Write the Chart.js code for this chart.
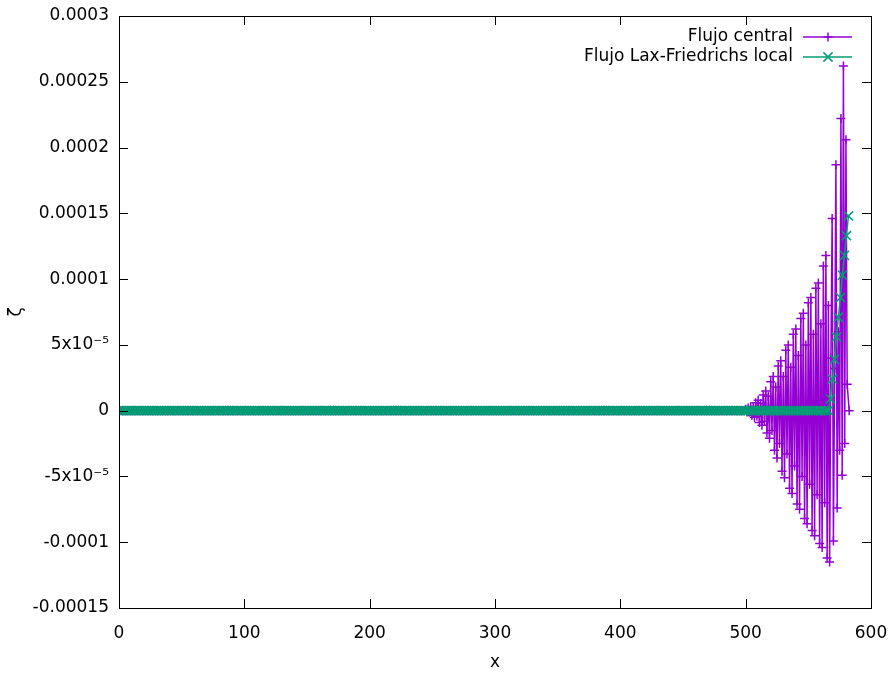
<!DOCTYPE html>
<html>
<head>
<meta charset="utf-8">
<script src="https://cdn.jsdelivr.net/npm/chart.js@4/dist/chart.umd.min.js"></script>
<style>
  html, body { margin: 0; padding: 0; background: #fff; }
  #wrap { width: 894px; height: 673px; }
</style>
</head>
<body>
<div id="wrap"><canvas id="grafico"></canvas></div>
<script>
// Malla común de la zona plana (ambos flujos valen 0 ahí)
const xFlat = [
  0,2,4,6,8,10,12,14,16,18,
  20,22,24,26,28,30,32,34,36,38,
  40,42,44,46,48,50,52,54,56,58,
  60,62,64,66,68,70,72,74,76,78,
  80,82,84,86,88,90,92,94,96,98,
  100,102,104,106,108,110,112,114,116,118,
  120,122,124,126,128,130,132,134,136,138,
  140,142,144,146,148,150,152,154,156,158,
  160,162,164,166,168,170,172,174,176,178,
  180,182,184,186,188,190,192,194,196,198,
  200,202,204,206,208,210,212,214,216,218,
  220,222,224,226,228,230,232,234,236,238,
  240,242,244,246,248,250,252,254,256,258,
  260,262,264,266,268,270,272,274,276,278,
  280,282,284,286,288,290,292,294,296,298,
  300,302,304,306,308,310,312,314,316,318,
  320,322,324,326,328,330,332,334,336,338,
  340,342,344,346,348,350,352,354,356,358,
  360,362,364,366,368,370,372,374,376,378,
  380,382,384,386,388,390,392,394,396,398,
  400,402,404,406,408,410,412,414,416,418,
  420,422,424,426,428,430,432,434,436,438,
  440,442,444,446,448,450,452,454,456,458,
  460,462,464,466,468,470,472,474,476,478,
  480,482,484,486,488,490,492,494,496,498
];
const zetaFlat = [
  0,0,0,0,0,0,0,0,0,0, 0,0,0,0,0,0,0,0,0,0,
  0,0,0,0,0,0,0,0,0,0, 0,0,0,0,0,0,0,0,0,0,
  0,0,0,0,0,0,0,0,0,0, 0,0,0,0,0,0,0,0,0,0,
  0,0,0,0,0,0,0,0,0,0, 0,0,0,0,0,0,0,0,0,0,
  0,0,0,0,0,0,0,0,0,0, 0,0,0,0,0,0,0,0,0,0,
  0,0,0,0,0,0,0,0,0,0, 0,0,0,0,0,0,0,0,0,0,
  0,0,0,0,0,0,0,0,0,0, 0,0,0,0,0,0,0,0,0,0,
  0,0,0,0,0,0,0,0,0,0, 0,0,0,0,0,0,0,0,0,0,
  0,0,0,0,0,0,0,0,0,0, 0,0,0,0,0,0,0,0,0,0,
  0,0,0,0,0,0,0,0,0,0, 0,0,0,0,0,0,0,0,0,0,
  0,0,0,0,0,0,0,0,0,0, 0,0,0,0,0,0,0,0,0,0,
  0,0,0,0,0,0,0,0,0,0, 0,0,0,0,0,0,0,0,0,0,
  0,0,0,0,0,0,0,0,0,0
];

// Flujo central: cola oscilante (paso 1)
const xCentralTail = [
  500,501,502,503,504,505,506,507,508,509,
  510,511,512,513,514,515,516,517,518,519,
  520,521,522,523,524,525,526,527,528,529,
  530,531,532,533,534,535,536,537,538,539,
  540,541,542,543,544,545,546,547,548,549,
  550,551,552,553,554,555,556,557,558,559,
  560,561,562,563,564,565,566,567,568,569,
  570,571,572,573,574,575,576,577,578,579,
  580,581,582.6
];
const zetaCentralTail = [
  1e-6,-1e-6,2e-6,-1.2e-6,3e-6,-3.5e-6,2.4e-6,-5e-6,6e-6,-4.2e-6,
  8e-6,-9e-6,5.4e-6,-11e-6,12e-6,-8e-6,15e-6,-17e-6,11e-6,-21e-6,
  22e-6,-15e-6,26e-6,-30e-6,18e-6,-36e-6,34e-6,-25e-6,38e-6,-46e-6,
  26e-6,-51e-6,46e-6,-33e-6,50e-6,-59e-6,33e-6,-63e-6,58e-6,-42e-6,
  62e-6,-71e-6,42e-6,-75e-6,70e-6,-50e-6,74e-6,-82e-6,50e-6,-86e-6,
  82e-6,-56e-6,86e-6,-91e-6,58e-6,-95e-6,93e-6,-64e-6,97e-6,-101e-6,
  66e-6,-104e-6,110e-6,-70e-6,118e-6,-112e-6,80e-6,-115e-6,40e-6,146e-6,
  -99e-6,32e-6,187e-6,-74e-6,60e-6,-30e-6,222e-6,-49e-6,262e-6,-25e-6,
  206e-6,20e-6,0
];

// Flujo Lax-Friedrichs local: cola
const xLFTail = [
  500,502,504,506,508,510,512,514,516,518,
  520,522,524,526,528,530,532,534,536,538,
  540,542,544,546,548,550,552,554,556,558,
  560,562,564,566,567.6,569.2,570.8,572.4,574,575.6,
  577.2,578.8,580.4,582
];
const zetaLFTail = [
  0,0,0,0,0,0,0,0,0,0,
  0,0,0,0,0,0,0,0,0,0,
  0,0,0,0,0,0,0,0,0,0,
  0,0,0,0,9e-6,24e-6,39e-6,56e-6,71e-6,86e-6,
  103e-6,118e-6,133e-6,148e-6
];

const xTicks = [0, 100, 200, 300, 400, 500, 600];
const yTicks = [-0.00015, -0.0001, -0.00005, 0, 0.00005, 0.0001, 0.00015, 0.0002, 0.00025, 0.0003];
const yTickLabels = ['-0.00015', '-0.0001', '-5x10\u207B\u2075', '0', '5x10\u207B\u2075', '0.0001', '0.00015', '0.0002', '0.00025', '0.0003'];

const seriesNames = ['Flujo central', 'Flujo Lax-Friedrichs local'];
const colCentral = '#9400d3';
const colLF = '#009e73';
const FONT = '"DejaVu Sans", sans-serif';
const FSIZE = 17;

function puntos(xs, ys) {
  return xs.map((x, i) => ({ x: x, y: ys[i] }));
}

// marco y marcas hacia dentro estilo gnuplot, y leyenda
const marco = {
  id: 'marco',
  afterDatasetsDraw(chart) {
    const { ctx, chartArea: a, scales } = chart;
    ctx.save();
    ctx.strokeStyle = '#000';
    ctx.lineWidth = 1;
    ctx.beginPath();
    yTicks.forEach(v => {
      const y = Math.round(scales.y.getPixelForValue(v)) + 0.5;
      ctx.moveTo(a.left, y); ctx.lineTo(a.left + 9, y);
      ctx.moveTo(a.right, y); ctx.lineTo(a.right - 9, y);
    });
    xTicks.forEach(v => {
      const x = Math.round(scales.x.getPixelForValue(v)) + 0.5;
      ctx.moveTo(x, a.bottom); ctx.lineTo(x, a.bottom - 9);
      ctx.moveTo(x, a.top); ctx.lineTo(x, a.top + 9);
    });
    ctx.stroke();
    ctx.strokeRect(Math.round(a.left) + 0.5, Math.round(a.top) + 0.5,
                   Math.round(a.right - a.left), Math.round(a.bottom - a.top));

    // leyenda
    const filas = [
      { t: seriesNames[0], c: colCentral, m: 'cross', r: 4.5 },
      { t: seriesNames[1], c: colLF, m: 'crossRot', r: 6.5 }
    ];
    ctx.font = FSIZE + 'px ' + FONT;
    ctx.textAlign = 'right';
    ctx.textBaseline = 'middle';
    filas.forEach((f, i) => {
      const y = 37 + i * 20;
      ctx.fillStyle = '#000';
      ctx.fillText(f.t, 793, y);
      ctx.strokeStyle = f.c;
      ctx.lineWidth = 1.5;
      ctx.beginPath();
      ctx.moveTo(803, y); ctx.lineTo(852, y);
      ctx.stroke();
      Chart.helpers.drawPoint(ctx, { pointStyle: f.m, radius: f.r, borderWidth: 1.5 }, 828, y);
    });
    ctx.restore();
  }
};

new Chart(document.getElementById('grafico'), {
  type: 'line',
  data: {
    datasets: [
      {
        label: seriesNames[0],
        data: puntos(xFlat, zetaFlat).concat(puntos(xCentralTail, zetaCentralTail)),
        borderColor: colCentral,
        backgroundColor: colCentral,
        borderWidth: 1.5,
        pointStyle: 'cross',
        pointRadius: 4.5,
        pointBorderWidth: 1.5,
        tension: 0,
        order: 2
      },
      {
        label: seriesNames[1],
        data: puntos(xFlat, zetaFlat).concat(puntos(xLFTail, zetaLFTail)),
        borderColor: colLF,
        backgroundColor: colLF,
        borderWidth: 1.5,
        pointStyle: 'crossRot',
        pointRadius: 6.5,
        pointBorderWidth: 1.5,
        tension: 0,
        order: 1
      }
    ]
  },
  options: {
    responsive: true,
    maintainAspectRatio: false,
    animation: false,
    events: [],
    layout: { padding: { left: 0, right: 23, top: 16, bottom: 0 } },
    plugins: { legend: { display: false }, tooltip: { enabled: false } },
    scales: {
      x: {
        type: 'linear',
        min: 0, max: 600,
        afterBuildTicks: s => { s.ticks = xTicks.map(v => ({ value: v })); },
        afterFit: s => { s.height = 65; s.paddingLeft = 0; s.paddingRight = 0; },
        grid: { display: false, drawTicks: false },
        border: { display: false },
        ticks: { color: '#000', font: { family: FONT, size: FSIZE }, padding: 15, maxRotation: 0 },
        title: { display: true, text: 'x', color: '#000', font: { family: FONT, size: FSIZE }, padding: { top: 4, bottom: 0 } }
      },
      y: {
        type: 'linear',
        min: -0.00015, max: 0.0003,
        afterBuildTicks: s => { s.ticks = yTicks.map(v => ({ value: v })); },
        afterFit: s => { s.width = 119; s.paddingTop = 0; s.paddingBottom = 0; },
        grid: { display: false, drawTicks: false },
        border: { display: false },
        ticks: {
          color: '#000', font: { family: FONT, size: FSIZE }, padding: 10,
          callback: (v) => {
            const i = yTicks.findIndex(t => Math.abs(t - v) < 1e-9);
            return i >= 0 ? yTickLabels[i] : '';
          }
        },
        title: { display: true, text: '\u03B6', color: '#000', font: { family: FONT, size: FSIZE }, padding: { top: 6, bottom: 0 } }
      }
    }
  },
  plugins: [marco]
});
</script>
</body>
</html>
